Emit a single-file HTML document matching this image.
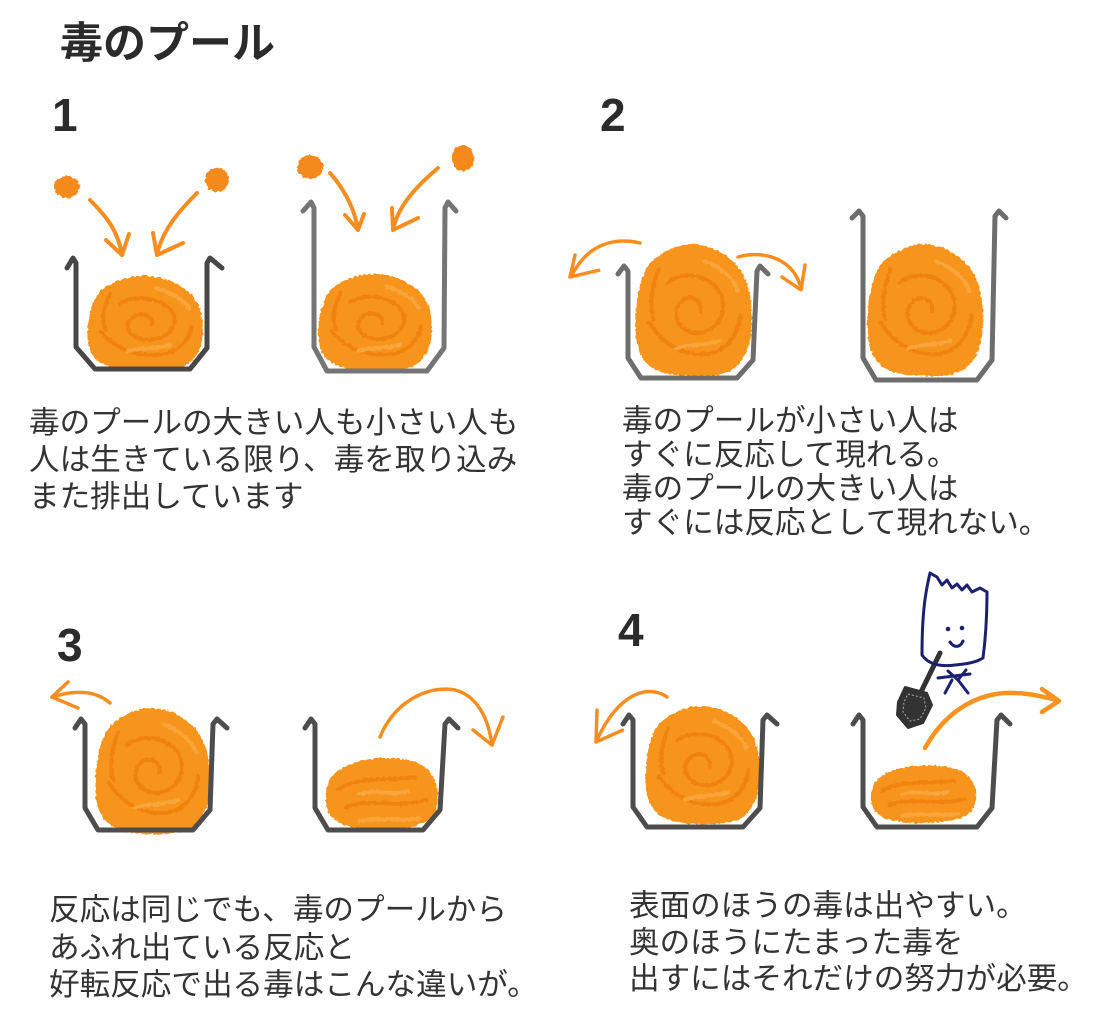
<!DOCTYPE html>
<html><head><meta charset="utf-8">
<style>
html,body{margin:0;padding:0;background:#fff;}
body{width:1120px;height:1033px;position:relative;overflow:hidden;font-family:"Liberation Sans","Noto Sans CJK JP",sans-serif;color:#2e2e2e;}
svg{position:absolute;left:0;top:0;}
.t{position:absolute;font-size:30.6px;white-space:nowrap;font-family:"Liberation Sans","Noto Sans CJK JP",sans-serif;color:#333;}
.n{position:absolute;font-size:46px;line-height:46px;font-weight:bold;font-family:"Liberation Sans",sans-serif;color:#2b2b2b;}
</style></head><body>
<svg width="1120" height="1033" viewBox="0 0 1120 1033" xmlns="http://www.w3.org/2000/svg">
<defs>
<filter id="fz" x="-15%" y="-15%" width="130%" height="130%">
<feTurbulence type="fractalNoise" baseFrequency="0.35" numOctaves="1" seed="4" result="n"/>
<feDisplacementMap in="SourceGraphic" in2="n" scale="4" xChannelSelector="R" yChannelSelector="G"/>
</filter>
<g id="blob">
<path d="M14,14 C28,4 40,0 52,1 C66,2 78,8 88,18 C97,28 100,42 100,58 C100,75 95,90 82,97 C68,102 45,102 28,99 C12,96 3,88 1,72 C-1,55 2,26 14,14 Z" fill="#f7941e"/>
<path d="M28,30 C42,20 66,24 74,40 C80,56 66,70 50,68 C36,66 30,52 40,44 C48,38 58,44 56,52" fill="none" stroke="#f0830f" stroke-width="4" vector-effect="non-scaling-stroke" stroke-linecap="round"/>
<path d="M12,60 C22,75 40,86 62,84 C78,82 88,70 90,55 M20,20 C14,35 12,48 16,58" fill="none" stroke="#f0830f" stroke-width="4" vector-effect="non-scaling-stroke" stroke-linecap="round"/>
<path d="M35,80 C48,76 60,78 72,74 M60,14 C72,18 84,26 88,36" fill="none" stroke="#faa53a" stroke-width="4" vector-effect="non-scaling-stroke" stroke-linecap="round"/>
</g>
<g id="flat">
<path d="M12,20 C30,2 60,0 80,10 C96,20 102,50 96,75 C90,95 70,100 45,100 C20,100 2,90 1,65 C0,45 3,30 12,20 Z" fill="#f7941e"/>
<path d="M12,45 C30,28 58,34 78,30 M18,70 C38,56 62,72 88,60" fill="none" stroke="#f0830f" stroke-width="4" vector-effect="non-scaling-stroke" stroke-linecap="round"/>
<path d="M30,52 C45,44 60,56 72,48 M30,88 C50,82 66,90 82,84" fill="none" stroke="#faa53a" stroke-width="4" vector-effect="non-scaling-stroke" stroke-linecap="round"/>
</g>
</defs>

<!-- blobs -->
<g filter="url(#fz)">
<use href="#blob" transform="translate(87,275) scale(1.16,0.95)"/>
<use href="#blob" transform="translate(318,273) scale(1.14,0.97)"/>
<use href="#blob" transform="translate(635,243) scale(1.17,1.32)"/>
<use href="#blob" transform="translate(867,243) scale(1.16,1.32)"/>
<use href="#blob" transform="translate(95,707) scale(1.15,1.26)"/>
<use href="#flat" transform="translate(325,755) scale(1.15,0.75)"/>
<use href="#blob" transform="translate(645,705) scale(1.15,1.18)"/>
<use href="#flat" transform="translate(870,763) scale(1.08,0.6)"/>
</g>

<!-- containers -->
<g fill="none" stroke-width="5" stroke-linejoin="round" stroke-linecap="round">
<path stroke="#474747" d="M67,268 L73,258 L76,263 L76,347 L95,369 L190,369 L207,348 L207,263 L210,258 L222,268"/>
<path stroke="#757575" d="M303,211 L311,202 L314,208 L314,347 L327,371 L427,371 L444,348 L445,208 L448,202 L456,211"/>
<path stroke="#6d6d6d" d="M618,274 L624,266 L628,271 L628,358 L641,378 L737,378 L753,360 L757,271 L760,266 L768,274"/>
<path stroke="#6d6d6d" d="M852,218 L859,211 L863,216 L863,358 L876,380 L977,380 L992,360 L995,216 L999,211 L1006,218"/>
<path stroke="#4d4d4d" d="M75,728 L81,719 L85,724 L85,808 L98,830 L193,830 L210,810 L213,724 L217,719 L227,728"/>
<path stroke="#4d4d4d" d="M305,728 L311,719 L315,724 L315,808 L328,830 L423,830 L440,810 L445,724 L449,719 L458,728"/>
<path stroke="#4d4d4d" d="M623,724 L629,715 L633,720 L633,807 L647,827 L743,827 L760,808 L763,720 L767,715 L777,724"/>
<path stroke="#4d4d4d" d="M853,724 L859,715 L863,720 L863,807 L877,827 L977,827 L992,808 L997,720 L1001,715 L1010,724"/>
</g>

<!-- balls -->
<g fill="#f58a1c" filter="url(#fz)">
<ellipse cx="67" cy="187" rx="13" ry="11"/>
<ellipse cx="217" cy="180" rx="12" ry="12"/>
<ellipse cx="310" cy="167" rx="13" ry="12"/>
<ellipse cx="463" cy="158" rx="11" ry="13"/>
</g>

<!-- arrows -->
<g fill="none" stroke="#f68d20" stroke-width="4" stroke-linecap="round" stroke-linejoin="round">
<path d="M90,200 C105,215 118,230 122,255 M106,240 L122,255 L129,234"/>
<path d="M197,193 C180,210 162,230 157,255 M153,233 L157,255 L183,243"/>
<path d="M330,173 C345,190 355,210 358,230 M345,215 L358,230 L364,214"/>
<path d="M438,168 C418,185 398,205 393,230 M392,208 L393,230 L418,218"/>
</g>
<g fill="none" stroke="#f68d20" stroke-width="3.5" stroke-linecap="round" stroke-linejoin="round" stroke-dasharray="7 2">
<path d="M640,243 C620,238 590,240 572,275"/>
<path d="M575,255 L570,277 L600,270"/>
<path d="M738,257 C762,250 792,258 800,285"/>
<path d="M805,265 L801,290 L782,277"/>
<path d="M110,703 C95,690 75,690 52,697"/>
<path d="M68,682 L52,697 L78,708"/>
<path d="M380,737 C395,700 430,685 455,690 C475,695 488,715 492,745"/>
<path d="M503,717 L492,745 L473,730"/>
<path d="M667,697 C650,685 620,690 597,740"/>
<path d="M597,710 L596,742 L623,730"/>
</g>
<path d="M925,748 C945,712 975,695 1005,693 C1025,692 1040,696 1057,700 M1042,689 L1059,701 L1042,712" fill="none" stroke="#f7931e" stroke-width="4.5" stroke-linecap="round" stroke-linejoin="round"/>

<!-- shovel -->
<path d="M940,653 L921,692" stroke="#333" stroke-width="5" stroke-linecap="round"/>
<path d="M905,687 L927,693 L932,705 L923,723 L908,728 L897,715 L898,702 Z" fill="#333" stroke="#333" stroke-width="2" stroke-linejoin="round"/>
<path d="M908,694 L924,698 L926,708 L920,719 L910,721 L903,712 L904,702 Z" fill="none" stroke="#aaa" stroke-width="1" stroke-dasharray="2 2"/>

<!-- character -->
<g fill="none" stroke="#1b2170" stroke-width="3" stroke-linecap="round" stroke-linejoin="round">
<path d="M930,573 C926,590 922,610 922,655 C928,664 940,667 955,665 C965,664 975,663 983,658 C986,635 987,610 987,592 L980,588 L972,592 L967,585 L962,590 L957,584 L952,588 L947,580 L942,585 L937,577 Z"/>
<path d="M950,642 C954,648 960,648 963,641"/>
<path d="M938,678 L970,674 M948,671 L958,680 L966,670 M952,680 L945,693 M958,680 L968,693"/>
</g>
<circle cx="948" cy="629" r="2.3" fill="#1b2170"/>
<circle cx="962" cy="628" r="2.3" fill="#1b2170"/>
</svg>

<div class="t" style="left:60px;top:23px;font-size:43px;line-height:43px;font-weight:bold;color:#2b2b2b;">毒のプール</div>
<div class="n" style="left:52px;top:92px;">1</div>
<div class="n" style="left:600px;top:92px;">2</div>
<div class="n" style="left:57px;top:622px;">3</div>
<div class="n" style="left:618px;top:607px;">4</div>

<div class="t" style="left:29px;top:405px;line-height:37px;">毒のプールの大きい人も小さい人も<br>人は生きている限り、毒を取り込み<br>また排出しています</div>
<div class="t" style="left:622px;top:404px;line-height:34px;">毒のプールが小さい人は<br>すぐに反応して現れる。<br>毒のプールの大きい人は<br>すぐには反応として現れない。</div>
<div class="t" style="left:49px;top:892px;line-height:37.5px;">反応は同じでも、毒のプールから<br>あふれ出ている反応と<br>好転反応で出る毒はこんな違いが。</div>
<div class="t" style="left:629px;top:888px;line-height:36.5px;">表面のほうの毒は出やすい。<br>奥のほうにたまった毒を<br>出すにはそれだけの努力が必要。</div>
</body></html>
